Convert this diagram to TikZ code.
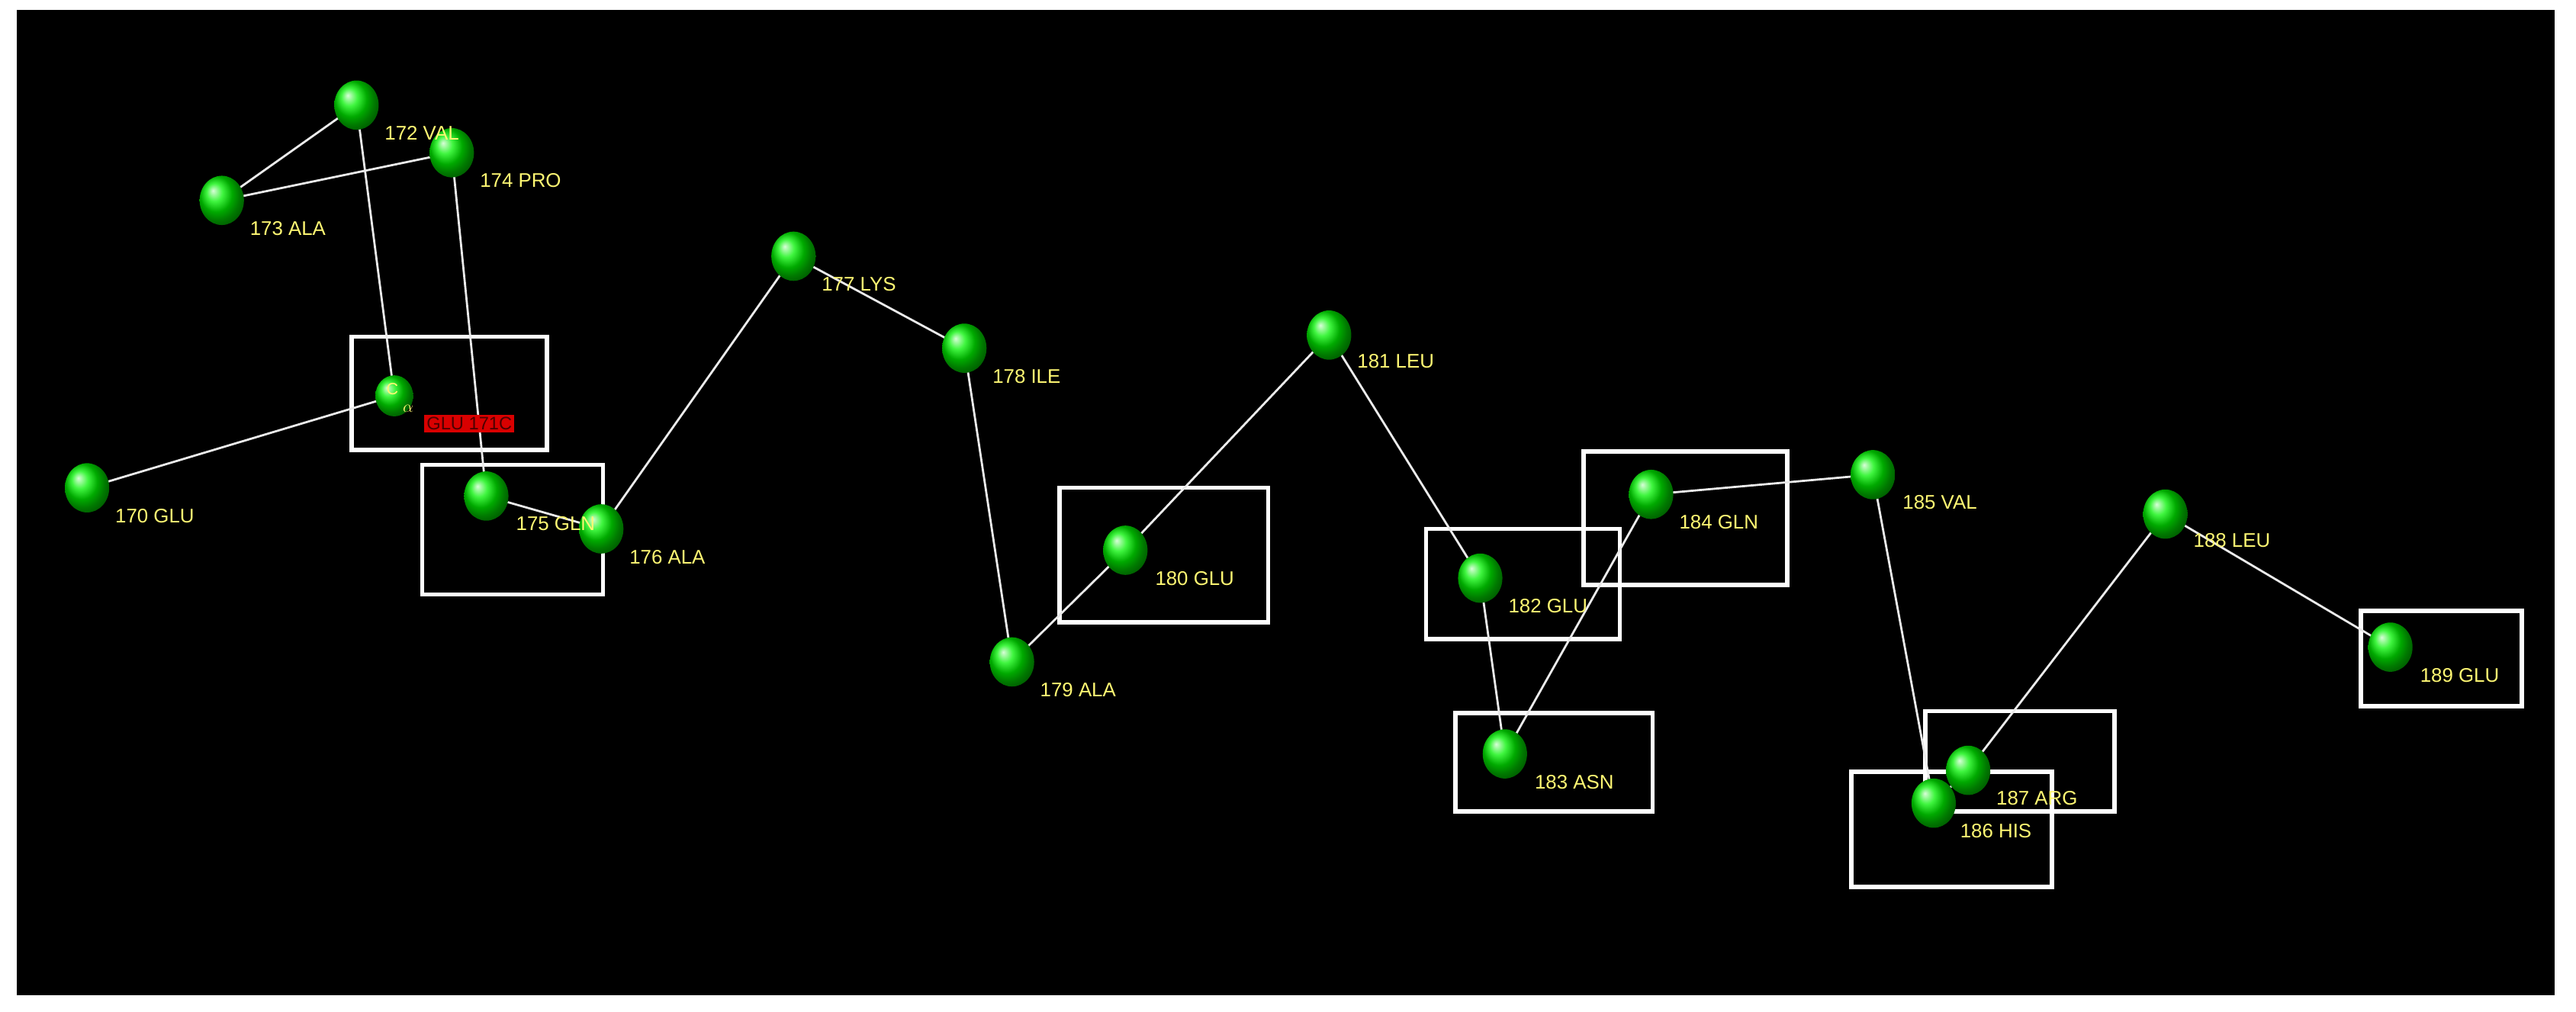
\documentclass[tikz,border=0pt]{standalone}
\usepackage{fontspec}
\setmainfont{Liberation Sans}
\usetikzlibrary{shapes.geometric}
\begin{document}
\begin{tikzpicture}[x=1pt,y=-1pt,
  res/.style={ellipse,minimum width=27pt,minimum height=30pt,inner sep=0pt,shading=ball,ball color=green!95!black},
  lbl/.style={anchor=west,text=yellow!55!white,font=\fontsize{12}{12}\selectfont,inner sep=0pt},
  bond/.style={white!92!black,line width=1.3pt},
  sel/.style={white,line width=2.6pt}]
\useasboundingbox (0,0) rectangle (1568,616);
\fill[white] (0,0) rectangle (1568,616);
\fill[black] (10,6) rectangle (1555,606);
% boxes
\draw[sel] (214,205) rectangle (333,274);
\draw[sel] (257,283) rectangle (367,362);
\draw[sel] (645,297) rectangle (772,379);
\draw[sel] (868,322) rectangle (986,389);
\draw[sel] (964,275) rectangle (1088,356);
\draw[sel] (886,434) rectangle (1006,494);
\draw[sel] (1172,433) rectangle (1287,494);
\draw[sel] (1127,470) rectangle (1249,540);
\draw[sel] (1437,372) rectangle (1535,430);
% coordinates
\coordinate (c170) at (53,297);
\coordinate (c171) at (240,241);
\coordinate (c172) at (217,64);
\coordinate (c173) at (135,122);
\coordinate (c174) at (275,93);
\coordinate (c175) at (296,302);
\coordinate (c176) at (366,322);
\coordinate (c177) at (483,156);
\coordinate (c178) at (587,212);
\coordinate (c179) at (616,403);
\coordinate (c180) at (685,335);
\coordinate (c181) at (809,204);
\coordinate (c182) at (901,352);
\coordinate (c183) at (916,459);
\coordinate (c184) at (1005,301);
\coordinate (c185) at (1140,289);
\coordinate (c186) at (1177,489);
\coordinate (c187) at (1198,469);
\coordinate (c188) at (1318,313);
\coordinate (c189) at (1455,394);
\draw[bond] (c170)--(c171)--(c172)--(c173)--(c174)--(c175)--(c176)--(c177)--(c178)--(c179)--(c180)--(c181)--(c182)--(c183)--(c184)--(c185)--(c186)--(c187)--(c188)--(c189);
% spheres
\foreach \n in {170,172,173,174,175,176,177,178,179,180,181,182,183,184,185,186,187,188,189}
  \node[res] (n\n) at (c\n) {};
\node[res,minimum width=23pt,minimum height=25pt] (n171) at (c171) {};
% labels
\node[lbl] (l170) at (70,314) {170 GLU};
\node[lbl] (l172) at (234,81) {172 VAL};
\node[lbl] (l173) at (152,139) {173 ALA};
\node[lbl] (l174) at (292,110) {174 PRO};
\node[lbl] (l175) at (314,319) {175 GLN};
\node[lbl] (l176) at (383,339) {176 ALA};
\node[lbl] (l177) at (500,173) {177 LYS};
\node[lbl] (l178) at (604,229) {178 ILE};
\node[lbl] (l179) at (633,420) {179 ALA};
\node[lbl] (l180) at (703,352) {180 GLU};
\node[lbl] (l181) at (826,220) {181 LEU};
\node[lbl] (l182) at (918,369) {182 GLU};
\node[lbl] (l183) at (934,476) {183 ASN};
\node[lbl] (l184) at (1022,318) {184 GLN};
\node[lbl] (l185) at (1158,306) {185 VAL};
\node[lbl] (l186) at (1193,506) {186 HIS};
\node[lbl] (l187) at (1215,486) {187 ARG};
\node[lbl] (l188) at (1335,329) {188 LEU};
\node[lbl] (l189) at (1473,411) {189 GLU};
\node[lbl,font=\fontsize{10}{10}\selectfont] (lca) at (235,237) {C};
\node[lbl,font=\fontsize{10}{10}\selectfont] (lal) at (245,249) {$\alpha$};
\node[anchor=west,fill=red!85!black,text=black!70!red,font=\fontsize{11}{11}\selectfont,inner sep=1.5pt] (l171) at (258,258) {GLU 171C};
\end{tikzpicture}
\end{document}
